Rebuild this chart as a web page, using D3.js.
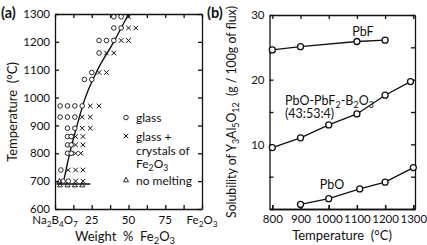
<!DOCTYPE html>
<html>
<head>
<meta charset="utf-8">
<script src="https://cdn.jsdelivr.net/npm/d3@7"></script>
<style>
  body { margin: 0; background: #fff; }
  text { font-family: Lato, sans-serif; fill: #111; }
</style>
</head>
<body>
<svg id="chart" width="427" height="245"></svg>
<script>
// ---- panel (a): Na2B4O7 - Fe2O3 melting ----
// [wt% Fe2O3, temperature]
var glassPts = [
  [40, 1290], [45, 1290],
  [40, 1250], [45, 1250],
  [30, 1205], [35, 1205], [40, 1205],
  [30, 1160],
  [25, 1090],
  [20, 1065], [25, 1065],
  [3.5, 970], [8.5, 970], [13.5, 970], [18.5, 970],
  [3.5, 930], [8.5, 930], [13.5, 930],
  [8.5, 890], [13.5, 890],
  [8.5, 860], [11, 860],
  [8.5, 830], [11, 830],
  [8.5, 800], [11, 800],
  [4, 740],
  [5.5, 700], [9, 700]
];
var crystalPts = [
  [50, 1290],
  [50, 1250], [55, 1250],
  [45, 1205], [50, 1205],
  [35, 1160], [40, 1160],
  [30, 1090], [35, 1090],
  [24, 970], [30, 970],
  [18.5, 930], [24, 930],
  [18.5, 890], [24, 890],
  [14, 860], [19, 860],
  [14, 830], [19, 830],
  [14, 800], [17.5, 800],
  [9, 740], [14, 740], [19, 740],
  [14, 700], [19, 700]
];
var noMeltPts = [
  [3, 700],
  [3.5, 686], [8.5, 686], [13.5, 686], [18.5, 686]
];
var liquidus = [[5.5, 690], [10, 800], [15, 900], [20, 990], [29, 1100], [40, 1200], [50, 1300]];
var solidus = [[1, 690], [24, 690]];
var aTickValues = [0, 25, 50, 75, 100];
var aTickLabels = ["Na_2B_4O_7", "25", "50", "75", "Fe_2O_3"];

// ---- panel (b): solubility of YAG ----
var pbfTemp = [800, 900, 1100, 1200];
var pbfSol = [24.6, 25.1, 25.9, 26.1];
var mixTemp = [800, 900, 1000, 1100, 1200, 1290];
var mixSol = [9.5, 11.0, 13.0, 14.7, 17.6, 19.7];
var pboTemp = [900, 1000, 1110, 1200, 1300];
var pboSol = [0.7, 1.6, 3.1, 4.15, 6.4];

var svg = d3.select("#chart");

// writes "Fe_2O_3" style strings with subscripts
function rich(text, str) {
  var parts = str.match(/_\d+|[^_]+/g);
  var sub = false;
  parts.forEach(function(p) {
    if (p[0] === "_") {
      text.append("tspan").attr("font-size", "0.72em").attr("dy", 3).text(p.slice(1));
      sub = true;
    } else {
      text.append("tspan").attr("dy", sub ? -3 : 0).text(p);
      sub = false;
    }
  });
  return text;
}

function styleTicks(s) {
  s.selectAll("text").attr("font-size", 11.5).attr("fill", "#111").attr("font-family", null);
}

function frame(g, x, y, xticks, yticks) {
  var r = x.range(), b = y.range();
  g.append("g").attr("transform", "translate(0," + b[0] + ")")
    .call(d3.axisBottom(x).tickValues(xticks).tickSize(-4).tickSizeOuter(0).tickFormat(""));
  g.append("g").attr("transform", "translate(0," + b[1] + ")")
    .call(d3.axisTop(x).tickValues(xticks).tickSize(-4).tickSizeOuter(0).tickFormat(""));
  g.append("g").attr("transform", "translate(" + r[1] + ",0)")
    .call(d3.axisRight(y).tickValues(yticks).tickSize(-4).tickSizeOuter(0).tickFormat(""));
  g.selectAll(".domain, .tick line").attr("stroke", "#111").attr("stroke-width", 1.3);
}

function cross(g, pts, x, y) {
  g.selectAll(null).data(pts).enter().append("path")
    .attr("d", function(d) {
      var cx = x(d[0]), cy = y(d[1]), s = 2.3;
      return "M" + (cx - s) + "," + (cy - s) + "L" + (cx + s) + "," + (cy + s) +
             "M" + (cx - s) + "," + (cy + s) + "L" + (cx + s) + "," + (cy - s);
    })
    .attr("stroke", "#111").attr("stroke-width", 1);
}

function tri(g, pts, x, y) {
  g.selectAll(null).data(pts).enter().append("path")
    .attr("d", function(d) {
      var cx = x(d[0]), cy = y(d[1]);
      return "M" + cx + "," + (cy - 2.6) + "L" + (cx + 2.5) + "," + (cy + 1.8) + "L" + (cx - 2.5) + "," + (cy + 1.8) + "Z";
    })
    .attr("fill", "none").attr("stroke", "#111").attr("stroke-width", 0.9);
}

function ring(g, pts, x, y, r, w) {
  g.selectAll(null).data(pts).enter().append("circle")
    .attr("cx", function(d) { return x(d[0]); })
    .attr("cy", function(d) { return y(d[1]); })
    .attr("r", r).attr("fill", "#fff").attr("stroke", "#111").attr("stroke-width", w);
}

// ===== panel (a) =====
var xa = d3.scaleLinear().domain([0, 100]).range([55, 202]);
var ya = d3.scaleLinear().domain([600, 1300]).range([209, 14]);
var ga = svg.append("g");

ga.append("g").attr("transform", "translate(55,0)")
  .call(d3.axisLeft(ya).tickValues(d3.range(600, 1301, 100)).tickFormat(d3.format("d"))
    .tickSize(-4).tickSizeOuter(0).tickPadding(5))
  .call(styleTicks);
frame(ga, xa, ya, d3.range(0, 101, 12.5), d3.range(600, 1301, 100));

ga.selectAll(null).data(aTickValues).enter().append("text")
  .attr("x", function(d) { return xa(d); }).attr("y", 224)
  .attr("text-anchor", "middle").attr("font-size", 11.5)
  .each(function(d, i) { rich(d3.select(this), aTickLabels[i]); });

var lineA = d3.line().x(function(d) { return xa(d[0]); }).y(function(d) { return ya(d[1]); });
ga.append("path").datum(liquidus).attr("d", lineA.curve(d3.curveMonotoneX))
  .attr("fill", "none").attr("stroke", "#111").attr("stroke-width", 1.4);
ga.append("path").datum(solidus).attr("d", lineA.curve(d3.curveLinear))
  .attr("fill", "none").attr("stroke", "#111").attr("stroke-width", 1.4);

ring(ga, glassPts, xa, ya, 2.3, 0.9);
cross(ga, crystalPts, xa, ya);
tri(ga, noMeltPts, xa, ya);

// legend
var lx = d3.scaleIdentity(), ly = d3.scaleIdentity();
ring(ga, [[126, 117.5]], lx, ly, 2.3, 0.9);
cross(ga, [[126, 136]], lx, ly);
tri(ga, [[126, 180]], lx, ly);
[["glass", 122], ["glass +", 140.5], ["crystals of", 154.5], ["Fe_2O_3", 167.5], ["no melting", 185]].forEach(function(t) {
  rich(ga.append("text").attr("x", 136).attr("y", t[1]).attr("font-size", 12), t[0]);
});

rich(ga.append("text").attr("x", 125).attr("y", 241).attr("text-anchor", "middle")
  .attr("font-size", 13).style("white-space", "pre"), "Weight  %  Fe_2O_3");
ga.append("text").attr("transform", "translate(17,112) rotate(-90)").attr("text-anchor", "middle")
  .attr("font-size", 13).style("white-space", "pre").text("Temperature  (°C)");
ga.append("text").attr("x", 1).attr("y", 18).attr("font-size", 14.5).attr("font-weight", "bold").text("(a)");

// ===== panel (b) =====
var xb = d3.scaleLinear().domain([790, 1306]).range([269.5, 415]);
var yb = d3.scaleLinear().domain([0, 30]).range([209, 15]);
var gb = svg.append("g");

gb.append("g").attr("transform", "translate(0,209)")
  .call(d3.axisBottom(xb).tickValues(d3.range(800, 1301, 100)).tickFormat(d3.format("d"))
    .tickSize(-4).tickSizeOuter(0).tickPadding(6))
  .call(styleTicks);
gb.append("g").attr("transform", "translate(269.5,0)")
  .call(d3.axisLeft(yb).tickValues(d3.range(0, 31, 5)).tickSize(-4).tickSizeOuter(0).tickPadding(5)
    .tickFormat(function(d) { return d % 10 === 0 && d > 0 ? d : ""; }))
  .call(styleTicks);
frame(gb, xb, yb, d3.range(800, 1301, 100), d3.range(0, 31, 5));

var lineB = d3.line().x(function(d) { return xb(d[0]); }).y(function(d) { return yb(d[1]); });
[[pbfTemp, pbfSol], [mixTemp, mixSol], [pboTemp, pboSol]].forEach(function(s) {
  var pts = d3.zip(s[0], s[1]);
  gb.append("path").datum(pts).attr("d", lineB)
    .attr("fill", "none").attr("stroke", "#111").attr("stroke-width", 1.3);
  ring(gb, pts, xb, yb, 3, 1.3);
});

gb.append("text").attr("x", 363).attr("y", 36).attr("text-anchor", "middle").attr("font-size", 12.5).text("PbF");
rich(gb.append("text").attr("x", 285).attr("y", 105).attr("font-size", 12.5), "PbO-PbF_2-B_2O_3");
gb.append("text").attr("x", 285).attr("y", 118).attr("font-size", 12.5).text("(43:53:4)");
gb.append("text").attr("x", 332).attr("y", 189).attr("text-anchor", "middle").attr("font-size", 12.5).text("PbO");

gb.append("text").attr("x", 342).attr("y", 240).attr("text-anchor", "middle")
  .attr("font-size", 13).style("white-space", "pre").text("Temperature  (°C)");
rich(gb.append("text").attr("transform", "translate(236,112) rotate(-90)").attr("text-anchor", "middle")
  .attr("font-size", 12.5).attr("textLength", 212).attr("lengthAdjust", "spacingAndGlyphs")
  .style("white-space", "pre"), "Solubility of Y_3Al_5O_12  (g / 100g of flux)");
gb.append("text").attr("x", 207).attr("y", 18).attr("font-size", 14.5).attr("font-weight", "bold").text("(b)");
</script>
</body>
</html>
